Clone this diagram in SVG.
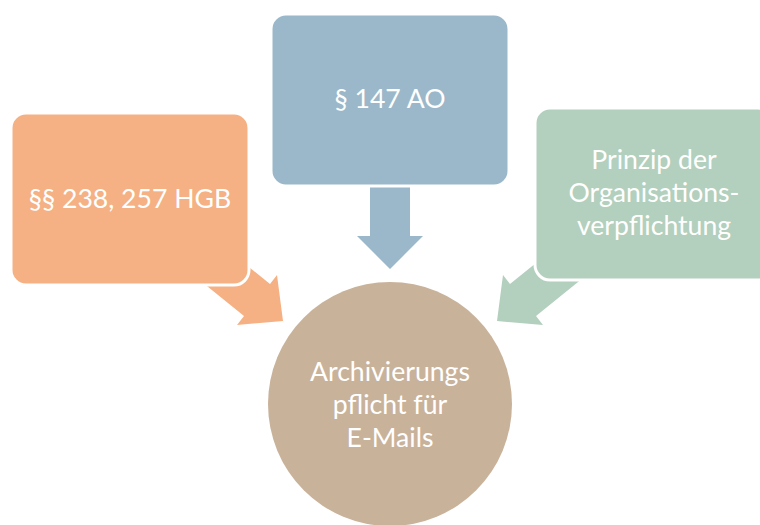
<svg xmlns="http://www.w3.org/2000/svg" width="760" height="525" viewBox="0 0 760 525">
  <style>
    .box { stroke: #ffffff; stroke-width: 3; }
    .lbl { font-family: Lato, "Open Sans", "Liberation Sans", sans-serif; font-size: 26.6px; fill: #ffffff; text-anchor: middle; }
  </style>
  <rect width="760" height="525" fill="#ffffff"/>
  <g id="connectors">
    <polygon fill="#F5B183" points="197,278 244,316 237,325 283,321 277,275 270,284 223,246"/>
    <polygon fill="#9AB8C9" points="370,170 370,236 357,236 390,269 423,236 410,236 410,170"/>
    <polygon fill="#B3CFBD" points="583,278 536,316 543,325 497,321 503,275 510,284 557,246"/>
  </g>
  <g id="node-hgb">
    <rect class="box" x="11" y="113" width="238" height="172" rx="15" fill="#F5B183"/>
    <text class="lbl" x="130" y="208">§§ 238, 257 HGB</text>
  </g>
  <g id="node-ao">
    <rect class="box" x="271" y="14" width="238" height="172" rx="15" fill="#9AB8C9"/>
    <text class="lbl" x="390" y="108">§ 147 AO</text>
  </g>
  <g id="node-org">
    <rect class="box" x="535" y="108" width="238" height="172" rx="15" fill="#B3CFBD"/>
    <text class="lbl" x="654" y="169">Prinzip der</text>
    <text class="lbl" x="654" y="202">Organisations-</text>
    <text class="lbl" x="654" y="235">verpflichtung</text>
  </g>
  <g id="node-center">
    <circle cx="390" cy="404" r="122" fill="#C9B29A"/>
    <text class="lbl" x="390" y="381">Archivierungs</text>
    <text class="lbl" x="390" y="414">pflicht für</text>
    <text class="lbl" x="390" y="447">E-Mails</text>
  </g>
</svg>
